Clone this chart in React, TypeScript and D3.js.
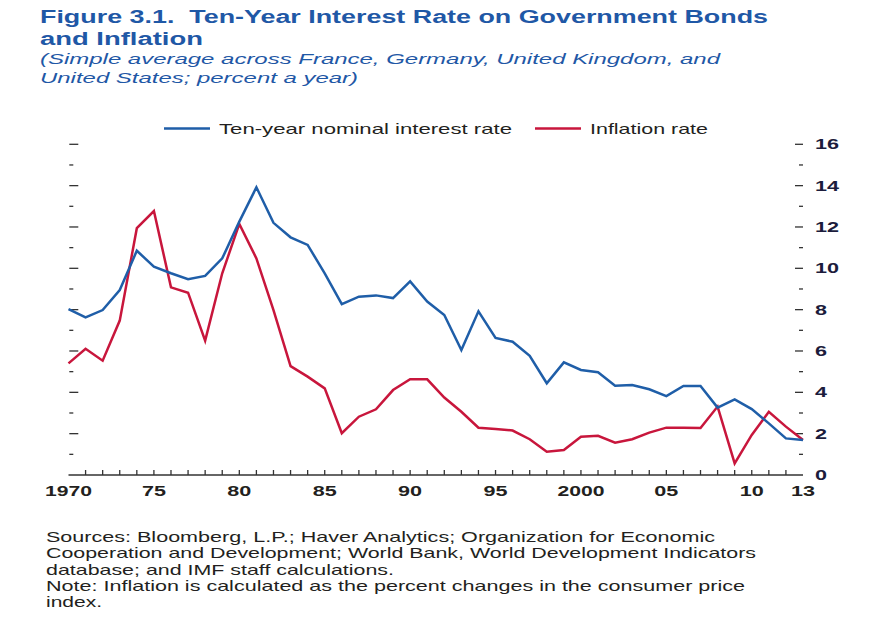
import React from "react";
import * as d3 from "d3";

const years: number[] = d3.range(1970, 2014);
const nominalRate: number[] = [
  8.03, 7.63, 7.98, 8.95, 10.85, 10.08, 9.76, 9.47, 9.63, 10.48,
  12.26, 13.92, 12.2, 11.5, 11.13, 9.76, 8.27, 8.63, 8.69, 8.56,
  9.37, 8.39, 7.74, 6.05, 7.92, 6.63, 6.45, 5.77, 4.44, 5.45,
  5.08, 4.97, 4.32, 4.35, 4.15, 3.82, 4.31, 4.31, 3.26, 3.66,
  3.19, 2.5, 1.77, 1.69,
];
const inflationRate: number[] = [
  5.4, 6.11, 5.53, 7.47, 11.94, 12.77, 9.08, 8.82, 6.5, 9.76,
  12.15, 10.48, 7.98, 5.27, 4.76, 4.19, 2.02, 2.82, 3.18, 4.11,
  4.63, 4.63, 3.75, 3.06, 2.29, 2.23, 2.15, 1.73, 1.13, 1.21,
  1.85, 1.9, 1.56, 1.73, 2.05, 2.29, 2.29, 2.27, 3.31, 0.56,
  1.94, 3.06, 2.34, 1.69,
];
const xTickYears: number[] = [1970, 1975, 1980, 1985, 1990, 1995, 2000, 2005, 2010, 2013];
const xTickLabels: string[] = ["1970", "75", "80", "85", "90", "95", "2000", "05", "10", "13"];
const yTicks: number[] = d3.range(0, 17, 1);
const seriesNames: string[] = ["Ten-year nominal interest rate", "Inflation rate"];
const titleLines: string[] = [
  "Figure 3.1.\u00a0 Ten-Year Interest Rate on Government Bonds",
  "and Inflation",
];
const subtitleLines: string[] = [
  "(Simple average across France, Germany, United Kingdom, and",
  "United States; percent a year)",
];
const noteLines: string[] = [
  "Sources: Bloomberg, L.P.; Haver Analytics; Organization for Economic",
  "Cooperation and Development; World Bank, World Development Indicators",
  "database; and IMF staff calculations.",
  "Note: Inflation is calculated as the percent changes in the consumer price",
  "index.",
];

const BLUE = "#1f5ea8";
const RED = "#c8163c";
const TITLE = "#1f58a6";
const TEXT = "#231f20";
const FONT = "'Liberation Sans', Arial, Helvetica, sans-serif";

export default function App() {
  const W = 875, H = 625;
  const x = d3.scaleLinear().domain([1970, 2013]).range([68.5, 803]);
  const y = d3.scaleLinear().domain([0, 16]).range([475, 144.3]);
  const line = d3
    .line<number>()
    .x((_, i) => x(years[i]))
    .y((d) => y(d));

  const titleWidths = [728, 163];
  const subWidths = [680, 318];
  const noteWidths = [669, 710, 348, 699, 56];

  return (
    <svg width={W} height={H} style={{ position: "absolute", left: 0, top: 0, background: "#fff" }} fontFamily={FONT}>
      <rect x={0} y={0} width={W} height={H} fill="#fff" />
      {titleLines.map((t, i) => (
        <text key={t} x={40} y={23 + i * 22} fontSize={17.5} fontWeight="bold" fill={TITLE}
          textLength={titleWidths[i]} lengthAdjust="spacingAndGlyphs">{t}</text>
      ))}
      {subtitleLines.map((t, i) => (
        <text key={t} x={40} y={63.5 + i * 19} fontSize={15.5} fontStyle="italic" fill={TITLE}
          textLength={subWidths[i]} lengthAdjust="spacingAndGlyphs">{t}</text>
      ))}

      {/* legend */}
      <line x1={164} x2={210} y1={128.5} y2={128.5} stroke={BLUE} strokeWidth={2.5} />
      <text x={219} y={133.5} fontSize={14.5} fill={TEXT} textLength={293} lengthAdjust="spacingAndGlyphs">{seriesNames[0]}</text>
      <line x1={535} x2={581} y1={128.5} y2={128.5} stroke={RED} strokeWidth={2.5} />
      <text x={590} y={133.5} fontSize={14.5} fill={TEXT} textLength={118} lengthAdjust="spacingAndGlyphs">{seriesNames[1]}</text>

      {/* y ticks */}
      {yTicks.filter((v) => v > 0).map((v) => {
        const major = v % 2 === 0;
        return (
          <g key={v}>
            <line x1={69.3} x2={major ? 78.3 : 73.3} y1={y(v)} y2={y(v)} stroke="#333" strokeWidth={1.3} />
            <line x1={major ? 795 : 799} x2={803} y1={y(v)} y2={y(v)} stroke="#333" strokeWidth={1.3} />
          </g>
        );
      })}
      {yTicks.filter((v) => v % 2 === 0).map((v) => (
        <text key={v} x={815} y={y(v) + 5} fontSize={15} fontWeight="bold" fill="#1c1c3c"
          textLength={String(v).length === 2 ? 24 : 12} lengthAdjust="spacingAndGlyphs">{v}</text>
      ))}

      {/* x axis */}
      <line x1={x(1970)} x2={x(2013)} y1={y(0)} y2={y(0)} stroke="#333" strokeWidth={1.5} />
      {years.filter((yr) => yr > 1970 && yr < 2013).map((yr) => (
        <line key={yr} x1={x(yr)} x2={x(yr)} y1={y(0)} y2={y(0) - 5} stroke="#333" strokeWidth={1.3} />
      ))}
      {xTickYears.map((yr, i) => (
        <text key={yr} x={x(yr)} y={495.5} fontSize={15} fontWeight="bold" fill={TEXT} textAnchor="middle"
          textLength={xTickLabels[i].length === 4 ? 47 : 24} lengthAdjust="spacingAndGlyphs">{xTickLabels[i]}</text>
      ))}

      {/* series */}
      <path d={line(inflationRate) || ""} fill="none" stroke={RED} strokeWidth={2.5} strokeLinejoin="miter" />
      <path d={line(nominalRate) || ""} fill="none" stroke={BLUE} strokeWidth={2.5} strokeLinejoin="miter" />

      {/* notes */}
      {noteLines.map((t, i) => (
        <text key={t} x={46} y={542 + i * 16.3} fontSize={14.5} fill={TEXT}
          textLength={noteWidths[i]} lengthAdjust="spacingAndGlyphs">{t}</text>
      ))}
    </svg>
  );
}
